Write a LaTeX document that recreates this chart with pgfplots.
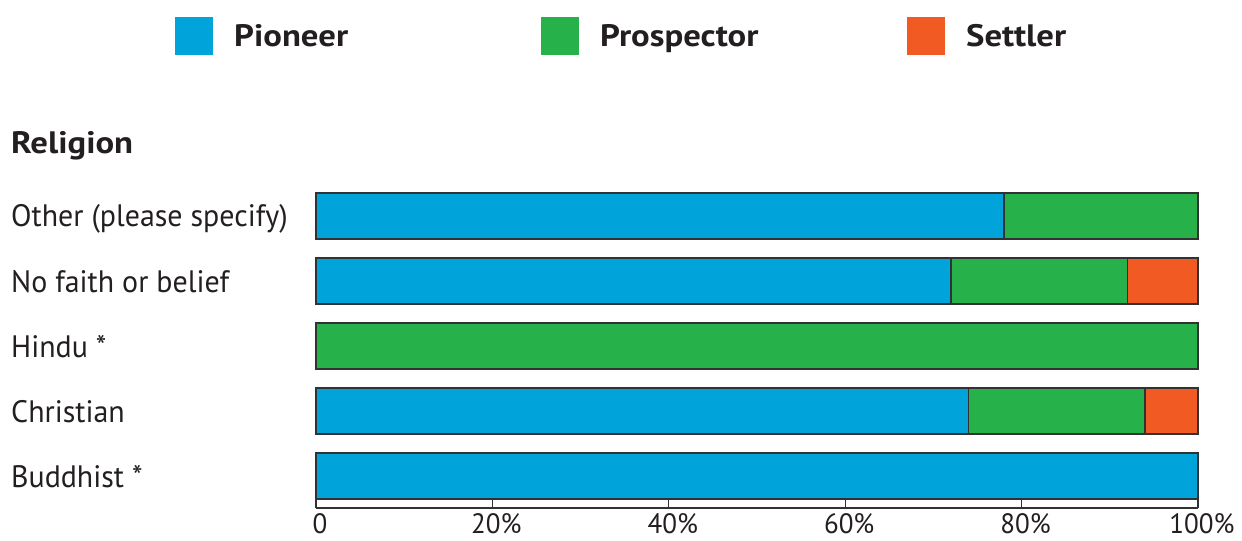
\documentclass[border=0pt]{standalone}
\usepackage{fontspec}
\setmainfont{PT Sans}[FakeStretch=0.965, BoldFeatures={FakeStretch=1.12}]
\usepackage{pgfplots}
\pgfplotsset{compat=1.18}
\definecolor{pioneer}{RGB}{0,163,218}
\definecolor{prospector}{RGB}{38,177,75}
\definecolor{settler}{RGB}{241,90,34}
\definecolor{txt}{RGB}{35,31,32}
\definecolor{edge}{RGB}{50,50,50}
\begin{document}
\fontsize{31bp}{36bp}\selectfont
\begin{tikzpicture}
\begin{axis}[
  at={(0,0)}, anchor=south west,
  xbar stacked, bar width=46bp,
  scale only axis, width=882bp, height=324.5bp,
  xmin=0, xmax=100, ymin=-0.492, ymax=4.5,
  clip=false,
  axis x line*=bottom, axis y line*=left,
  y axis line style={draw=none},
  x axis line style={draw=edge, line width=1.2bp},
  xtick={0,20,40,60,80,100},
  xticklabels={0,20\%,40\%,60\%,80\%,100\%},
  xtick align=inside,
  major tick length=8bp,
  x tick style={draw=edge, line width=1.2bp},
  ytick={0,1,2,3,4},
  yticklabels={Buddhist *,Christian,Hindu *,No faith or belief,Other (please specify)},
  y tick style={draw=none},
  yticklabel style={anchor=base west, xshift=-305bp, yshift=-11bp, inner sep=0pt, text=txt},
  xticklabel style={anchor=north, inner sep=0pt, text depth=0pt, yshift=-5bp, xshift=4bp, text=txt, font=\fontsize{28bp}{33bp}\selectfont},
  every axis plot/.append style={draw=edge, line width=1.2bp},
  legend columns=3,
  legend style={at={(rel axis cs:-0.1599,1.513)}, anchor=north west, draw=none, fill=none, inner sep=0pt,
    nodes={inner sep=0pt, text width=307bp, align=left, font=\bfseries, text=txt, yshift=-2bp},
    /tikz/every odd column/.append style={column sep=21bp}},
  legend image code/.code={\fill[#1, draw=none] (0bp,-19bp) rectangle (38bp,19bp);},
]
\addplot[fill=pioneer] coordinates {(100,0) (74,1) (0,2) (72,3) (78,4)};
\addplot[fill=prospector] coordinates {(0,0) (20,1) (100,2) (20,3) (22,4)};
\addplot[fill=settler] coordinates {(0,0) (6,1) (0,2) (8,3) (0,4)};
\legend{Pioneer,Prospector,Settler}
\node[anchor=base west, inner sep=0pt, font=\bfseries, text=txt] at ([xshift=-305bp, yshift=354bp]rel axis cs:0,0) {Religion};
\end{axis}
\pgfresetboundingbox
\useasboundingbox (-316bp,-33bp) rectangle (926bp,508bp);
\end{tikzpicture}
\end{document}
